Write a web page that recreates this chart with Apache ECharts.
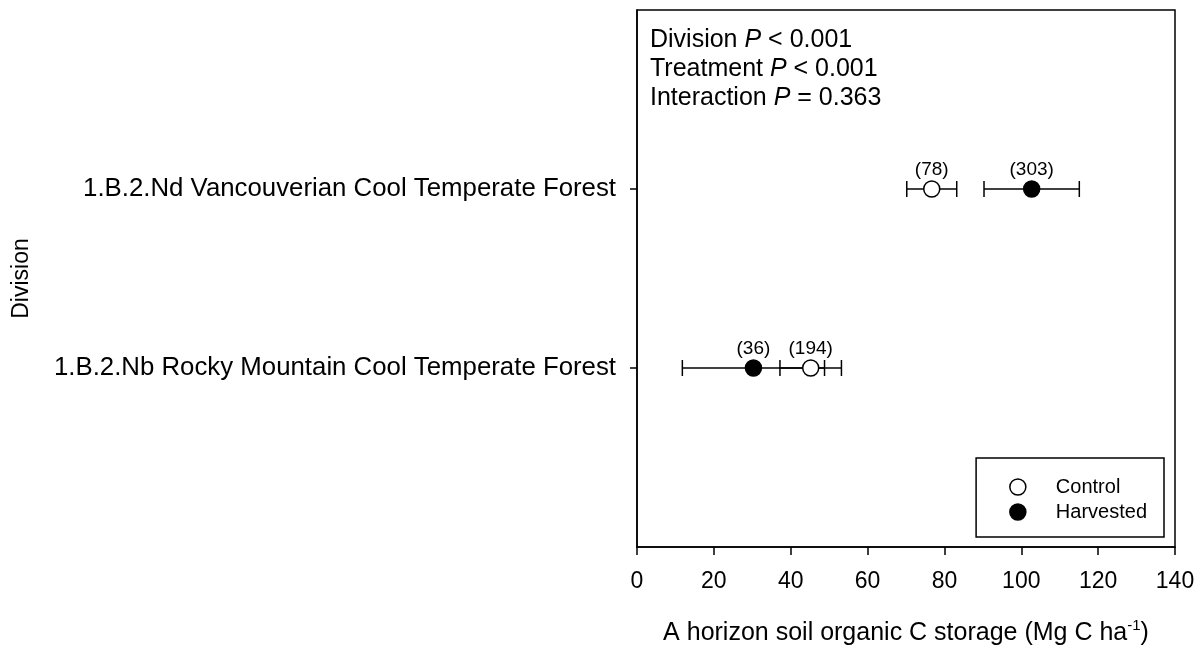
<!DOCTYPE html>
<html><head><meta charset="utf-8">
<script src="https://cdn.jsdelivr.net/npm/echarts@6/dist/echarts.min.js"></script>
<style>html,body{margin:0;padding:0;background:#fff}#c{width:1202px;height:651px}</style>
</head><body><div id="c"></div>
<script>
const divisions = ['1.B.2.Nb Rocky Mountain Cool Temperate Forest', '1.B.2.Nd Vancouverian Cool Temperate Forest'];
const controlMean = [45.2, 76.7];
const controlErr = [8.0, 6.5];
const controlN = [194, 78];
const harvestedMean = [30.3, 102.7];
const harvestedErr = [18.5, 12.4];
const harvestedN = [36, 303];
const xTicks = [0, 20, 40, 60, 80, 100, 120, 140];

const FONT = 'Liberation Sans, Arial, sans-serif';
const yCats = [''].concat(divisions, ['']);

function errData(mean, err) {
  return mean.map((m, i) => [m - err[i], m + err[i], i + 1]);
}
function ptData(mean, n) {
  return mean.map((m, i) => ({ value: [m, i + 1], n: n[i] }));
}
const errRender = function (params, api) {
  const lo = api.coord([api.value(0), api.value(2)]);
  const hi = api.coord([api.value(1), api.value(2)]);
  const h = 8;
  const st = { stroke: '#000', lineWidth: 1.5 };
  return { type: 'group', children: [
    { type: 'line', shape: { x1: lo[0], y1: lo[1], x2: hi[0], y2: hi[1] }, style: st },
    { type: 'line', shape: { x1: lo[0], y1: lo[1] - h, x2: lo[0], y2: lo[1] + h }, style: st },
    { type: 'line', shape: { x1: hi[0], y1: hi[1] - h, x2: hi[0], y2: hi[1] + h }, style: st }
  ]};
};
const ptLabel = { show: true, position: 'top', distance: 1, color: '#000', fontFamily: FONT, fontSize: 19,
  formatter: p => '(' + p.data.n + ')' };

const chart = echarts.init(document.getElementById('c'), null, { renderer: 'canvas' });
chart.setOption({
  animation: false,
  backgroundColor: '#fff',
  grid: { left: 637, right: 27, top: 10, bottom: 102, show: true, borderColor: '#000', borderWidth: 1.5, containLabel: false },
  xAxis: {
    type: 'value', min: 0, max: 140, interval: 20,
    axisLine: { show: true, lineStyle: { color: '#000', width: 1.5 } },
    axisTick: { show: true, length: 8, lineStyle: { color: '#000', width: 1.5 } },
    splitLine: { show: false },
    axisLabel: { color: '#000', fontFamily: FONT, fontSize: 23, margin: 23,
      formatter: v => xTicks.indexOf(v) >= 0 ? String(v) : '' },
    name: '{a|A horizon soil organic C storage (Mg C ha}{s|-1}{a|)}',
    nameLocation: 'middle', nameGap: 71,
    nameTextStyle: { rich: {
      a: { fontFamily: FONT, fontSize: 25, color: '#000', lineHeight: 28, verticalAlign: 'bottom' },
      s: { fontFamily: FONT, fontSize: 15, color: '#000', lineHeight: 28, verticalAlign: 'top' } } }
  },
  yAxis: {
    type: 'category', data: yCats, boundaryGap: false,
    axisLine: { show: true, lineStyle: { color: '#000', width: 1.5 } },
    axisTick: { show: true, length: 7, interval: (i) => i === 1 || i === 2, lineStyle: { color: '#000', width: 1.5 } },
    axisLabel: { color: '#000', fontFamily: FONT, fontSize: 25.8, margin: 21, interval: (i) => i === 1 || i === 2 },
    splitLine: { show: false },
    name: 'Division', nameLocation: 'middle', nameRotate: 90, nameGap: 604,
    nameTextStyle: { color: '#000', fontFamily: FONT, fontSize: 23 }
  },
  legend: {
    orient: 'vertical', right: 38, top: 458,
    borderColor: '#000', borderWidth: 1.5, borderRadius: 0,
    padding: [19, 17, 15, 33], itemGap: 5,
    itemWidth: 16, itemHeight: 16,
    textStyle: { color: '#000', fontFamily: FONT, fontSize: 20, padding: [0, 0, 0, 25] },
    data: [
      { name: 'Control', icon: 'circle', itemStyle: { color: '#fff', borderColor: '#000', borderWidth: 1.5 } },
      { name: 'Harvested', icon: 'circle', itemStyle: { color: '#000', borderColor: '#000', borderWidth: 1.5 } }
    ]
  },
  graphic: [{
    type: 'text', left: 650, top: 28, z: 10,
    style: {
      text: '{a|Division }{i|P}{a| < 0.001}\n{a|Treatment }{i|P}{a| < 0.001}\n{a|Interaction }{i|P}{a| = 0.363}',
      rich: {
        a: { fontFamily: FONT, fontSize: 25, fill: '#000', lineHeight: 29 },
        i: { fontFamily: FONT, fontSize: 25, fontStyle: 'italic', fill: '#000', lineHeight: 29 }
      }
    }
  }],
  series: [
    { type: 'custom', name: 'errH', renderItem: errRender, data: errData(harvestedMean, harvestedErr),
      encode: { x: [0, 1], y: 2 }, z: 2, silent: true },
    { type: 'custom', name: 'errC', renderItem: errRender, data: errData(controlMean, controlErr),
      encode: { x: [0, 1], y: 2 }, z: 2, silent: true },
    { type: 'scatter', name: 'Control', symbol: 'circle', symbolSize: 16, z: 5,
      itemStyle: { color: '#fff', borderColor: '#000', borderWidth: 1.5, opacity: 1 },
      label: ptLabel, data: ptData(controlMean, controlN) },
    { type: 'scatter', name: 'Harvested', symbol: 'circle', symbolSize: 16, z: 5,
      itemStyle: { color: '#000', borderColor: '#000', borderWidth: 1.5, opacity: 1 },
      label: ptLabel, data: ptData(harvestedMean, harvestedN) }
  ]
});
</script>
</body></html>
